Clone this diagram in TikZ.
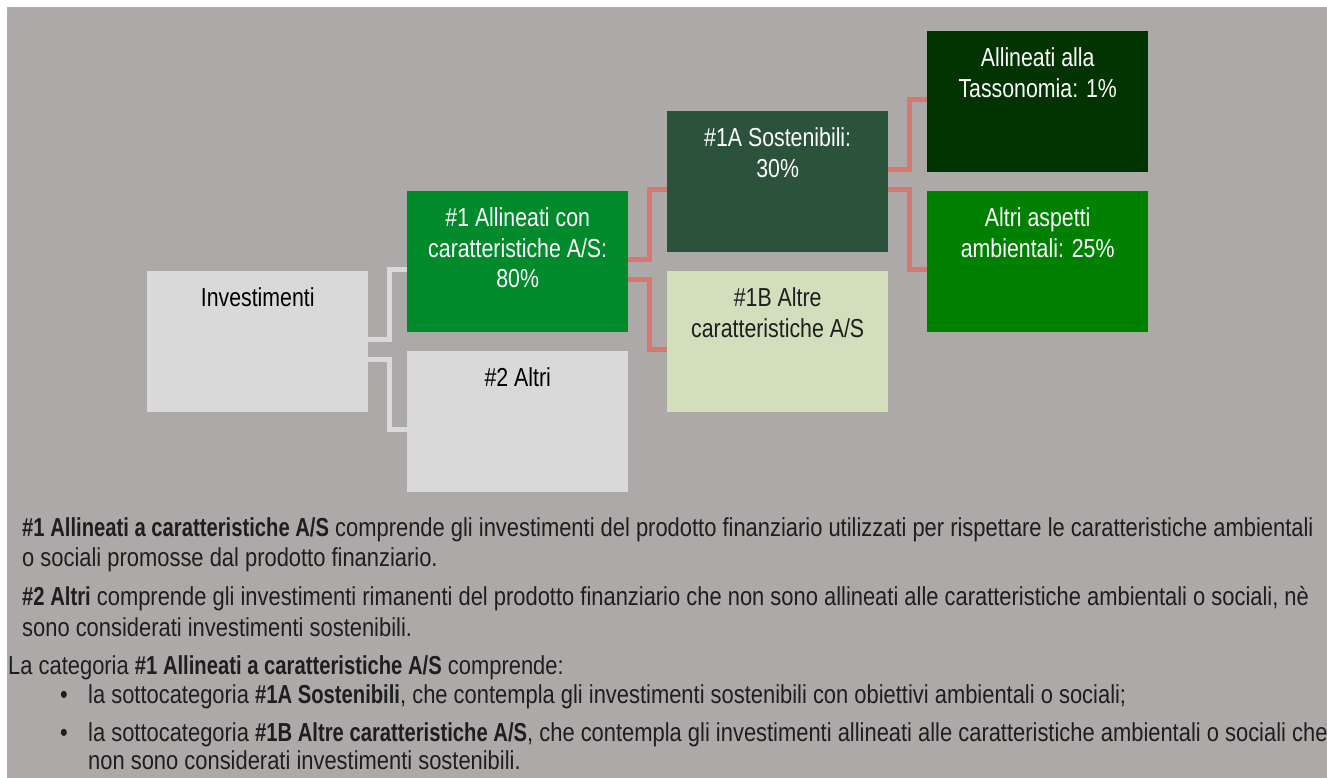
\documentclass[tikz,border=0pt]{standalone}
\usepackage{fontspec}
\setmainfont{Liberation Sans}[FakeStretch=0.82]
\newfontfamily\parafont{Liberation Sans}[FakeStretch=0.843, BoldFeatures={FakeStretch=0.778}]
\definecolor{bgc}{HTML}{ADA9A8}
\definecolor{lgray}{HTML}{D9D9D9}
\definecolor{gA}{HTML}{008A2C}
\definecolor{gB}{HTML}{2B523A}
\definecolor{gC}{HTML}{D3DFBC}
\definecolor{gD}{HTML}{003300}
\definecolor{gE}{HTML}{008000}
\definecolor{salmon}{HTML}{D9776F}
\definecolor{txt}{HTML}{1E1E1E}
\begin{document}
\begin{tikzpicture}[x=1pt,y=-1pt,
  box/.style={draw=none, minimum width=221pt, minimum height=141pt, inner sep=0pt, anchor=north west},
  boxtext/.style={anchor=north, inner sep=0pt, align=center, font=\fontsize{26}{30.5}\selectfont},
  conn/.style={line width=5pt, line join=miter},
  para/.style={anchor=base west, inner sep=0pt, text=txt, font=\parafont\fontsize{26}{30}\selectfont}
]
\useasboundingbox (0,0) rectangle (1327,778);
\fill[white] (0,0) rectangle (1327,778);
\fill[bgc] (7,7) rectangle (1327,778);

\node[box, fill=lgray] (inv) at (147,271) {};
\node[box, fill=gA] (a1) at (407,191) {};
\node[box, fill=lgray] (o2) at (407,351) {};
\node[box, fill=gB] (s1a) at (667,111) {};
\node[box, fill=gC] (s1b) at (667,271) {};
\node[box, fill=gD] (tax) at (927,31) {};
\node[box, fill=gE] (env) at (927,191) {};

\node[boxtext, text=black] (tinv) at ([yshift=-16.7pt]inv.north) {Investimenti};
\node[boxtext, text=white] (ta1) at ([yshift=-16.7pt]a1.north) {\#1 Allineati con\\caratteristiche A/S:\\80\%};
\node[boxtext, text=black] (to2) at ([yshift=-16.7pt]o2.north) {\#2 Altri};
\node[boxtext, text=white] (ts1a) at ([yshift=-16.7pt]s1a.north) {\#1A Sostenibili:\\30\%};
\node[boxtext, text=txt] (ts1b) at ([yshift=-16.7pt]s1b.north) {\#1B Altre\\caratteristiche A/S};
\node[boxtext, text=white] (ttax) at ([yshift=-16.7pt]tax.north) {Allineati alla\\Tassonomia: 1\%};
\node[boxtext, text=white] (tenv) at ([yshift=-16.7pt]env.north) {Altri aspetti\\ambientali: 25\%};

\draw[conn, lgray] ([yshift=2.3pt]inv.east) -- ++(21.5,0) |- ([yshift=-8pt]a1.west);
\draw[conn, lgray] ([yshift=-17.7pt]inv.east) -- ++(21.5,0) |- ([yshift=-7.5pt]o2.west);
\draw[conn, salmon] ([yshift=2.5pt]a1.east) -- ++(21.5,0) |- ([yshift=-8pt]s1a.west);
\draw[conn, salmon] ([yshift=-17.5pt]a1.east) -- ++(21.5,0) |- ([yshift=-7.8pt]s1b.west);
\draw[conn, salmon] ([yshift=12.3pt]s1a.east) -- ++(21.5,0) |- ([yshift=2pt]tax.west);
\draw[conn, salmon] ([yshift=-7.7pt]s1a.east) -- ++(21.5,0) |- ([yshift=-7.8pt]env.west);

\node[para] (l1) at (22,536) {\textbf{\#1 Allineati a caratteristiche A/S} comprende gli investimenti del prodotto finanziario utilizzati per rispettare le caratteristiche ambientali};
\node[para] (l2) at (22,566) {o sociali promosse dal prodotto finanziario.};
\node[para] (l3) at (22,605) {\textbf{\#2 Altri} comprende gli investimenti rimanenti del prodotto finanziario che non sono allineati alle caratteristiche ambientali o sociali, nè};
\node[para] (l4) at (22,636) {sono considerati investimenti sostenibili.};
\node[para] (l5) at (8,674) {La categoria \textbf{\#1 Allineati a caratteristiche A/S} comprende:};
\node[para] (b1) at (60,703) {•};
\node[para] (l6) at (88,703) {la sottocategoria \textbf{\#1A Sostenibili}, che contempla gli investimenti sostenibili con obiettivi ambientali o sociali;};
\node[para] (b2) at (60,741) {•};
\node[para] (l7) at (88,741) {la sottocategoria \textbf{\#1B Altre caratteristiche A/S}, che contempla gli investimenti allineati alle caratteristiche ambientali o sociali che};
\node[para] (l8) at (88,769) {non sono considerati investimenti sostenibili.};
\end{tikzpicture}
\end{document}
